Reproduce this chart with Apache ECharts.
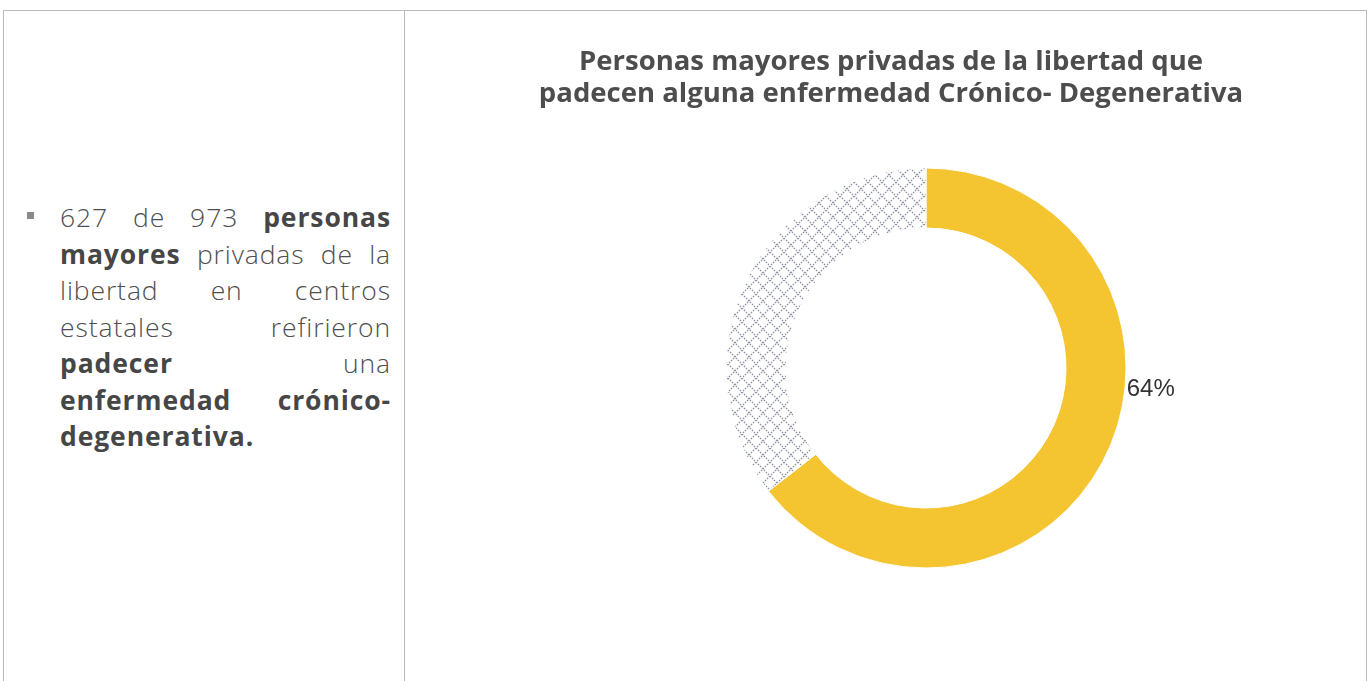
<!DOCTYPE html>
<html>
<head>
<meta charset="utf-8">
<script src="https://cdn.jsdelivr.net/npm/echarts@6/dist/echarts.min.js"></script>
<style>
  html, body { margin:0; padding:0; width:1369px; height:681px; background:#fff; overflow:hidden; }
  #chart { position:absolute; left:0; top:0; width:1369px; height:681px; }
  .border { position:absolute; background:#b9b9b9; }
  #left { position:absolute; left:60px; top:199px; width:331px; font-family:"Open Sans", sans-serif; font-size:26.5px; line-height:36.5px; color:#4e4e4e; font-weight:300; letter-spacing:0.9px; }
  #left .ln { text-align:justify; text-align-last:justify; white-space:nowrap; }
  #left .ln.last { text-align-last:left; }
  #left b { font-weight:700; color:#464646; }
  #bullet { position:absolute; left:27px; top:212px; width:7px; height:7px; background:#8a8a8a; }
</style>
</head>
<body>
<div class="border" style="left:3px; top:10px; width:1364px; height:1px;"></div>
<div class="border" style="left:3px; top:10px; width:1px; height:671px;"></div>
<div class="border" style="left:404px; top:10px; width:1px; height:671px;"></div>
<div class="border" style="left:1366px; top:10px; width:1px; height:671px;"></div>
<div id="bullet"></div>
<div id="left">
  <div class="ln">627 de 973 <b>personas</b></div>
  <div class="ln"><b>mayores</b> privadas de la</div>
  <div class="ln">libertad en centros</div>
  <div class="ln">estatales refirieron</div>
  <div class="ln"><b>padecer</b> una</div>
  <div class="ln"><b>enfermedad crónico-</b></div>
  <div class="ln last"><b>degenerativa.</b></div>
</div>
<div id="chart"></div>
<script>
const titleLines = ['Personas mayores privadas de la libertad que', 'padecen alguna enfermedad Crónico- Degenerativa'];
const categories = ['Padecen enfermedad crónico-degenerativa', 'No padecen'];
const values = [627, 346];
const labelsShown = [true, false];

function makeHatch() {
  const s = 14;
  const c = document.createElement('canvas');
  c.width = s; c.height = s;
  const ctx = c.getContext('2d');
  ctx.fillStyle = '#ffffff';
  ctx.fillRect(0, 0, s, s);
  ctx.strokeStyle = '#8a90a2';
  ctx.lineWidth = 1.2;
  ctx.setLineDash([1.6, 1.2]);
  ctx.beginPath();
  ctx.moveTo(0, 0); ctx.lineTo(s, s);
  ctx.moveTo(s, 0); ctx.lineTo(0, s);
  ctx.stroke();
  return c;
}

const chart = echarts.init(document.getElementById('chart'), null, { renderer: 'canvas' });
const total = values.reduce((a, b) => a + b, 0);
chart.setOption({
  animation: false,
  title: {
    text: titleLines.join('\n'),
    left: 886,
    top: 41,
    textAlign: 'center',
    textStyle: { fontFamily: '"Open Sans", sans-serif', fontWeight: 'bold', fontSize: 27.5, lineHeight: 32, color: '#4d4d4d' }
  },
  series: [{
    type: 'pie',
    center: [926, 368],
    radius: [140, 200],
    startAngle: 90,
    clockwise: true,
    avoidLabelOverlap: false,
    labelLine: { show: false, length: 0, length2: 0 },
    label: {
      show: true,
      position: 'outside',
      formatter: p => Math.round(p.value / total * 100) + '%',
      fontFamily: '"Liberation Sans", Arial, sans-serif',
      fontSize: 24,
      color: '#333'
    },
    labelLayout: { dx: 16, dy: -66 },
    data: categories.map((name, i) => ({
      name,
      value: values[i],
      label: { show: labelsShown[i] },
      itemStyle: i === 0
        ? { color: '#F4C431', borderColor: '#fff', borderWidth: 1 }
        : { color: { image: makeHatch(), repeat: 'repeat' }, borderColor: '#fff', borderWidth: 1 }
    }))
  }]
});
</script>
</body>
</html>
